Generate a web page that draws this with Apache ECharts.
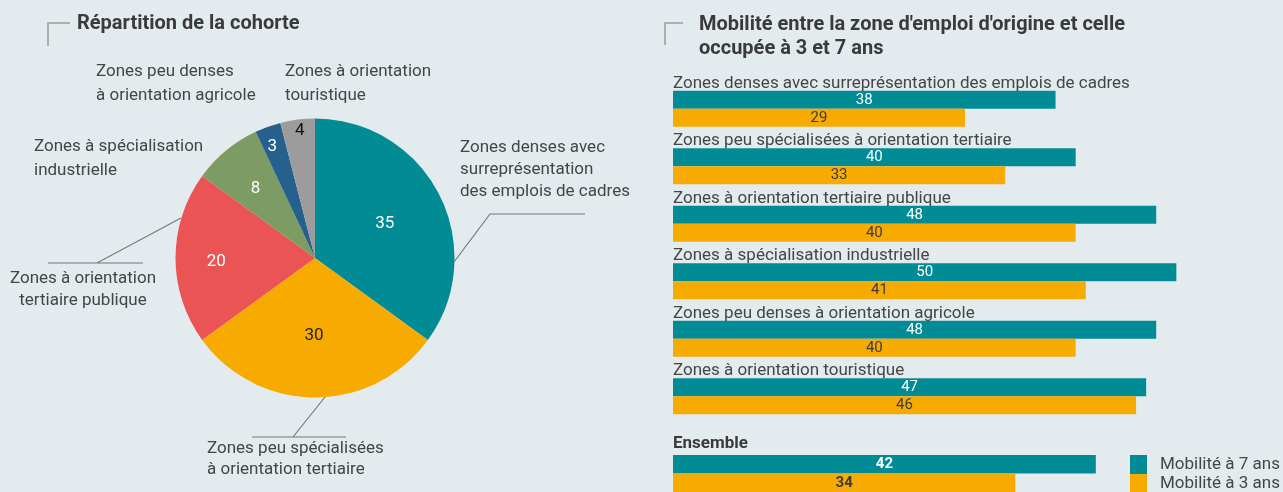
<!DOCTYPE html>
<html>
<head>
<meta charset="utf-8">
<script src="https://cdn.jsdelivr.net/npm/echarts@6/dist/echarts.min.js"></script>
<style>
html,body{margin:0;padding:0;background:#e4ebef;}
#main{width:1283px;height:492px;}
</style>
</head>
<body>
<div id="main"></div>
<script>
// ---- Data ----
const pieCategories = [
  'Zones denses avec\nsurreprésentation\ndes emplois de cadres',
  'Zones peu spécialisées\nà orientation tertiaire',
  'Zones à orientation\ntertiaire publique',
  'Zones à spécialisation\nindustrielle',
  'Zones peu denses\nà orientation agricole',
  'Zones à orientation\ntouristique'
];
const pieValues = [35, 30, 20, 8, 3, 4];

const barCategories = [
  'Zones denses avec surreprésentation des emplois de cadres',
  'Zones peu spécialisées à orientation tertiaire',
  'Zones à orientation tertiaire publique',
  'Zones à spécialisation industrielle',
  'Zones peu denses à orientation agricole',
  'Zones à orientation touristique'
];
const mobility7 = [38, 40, 48, 50, 48, 47];
const mobility3 = [29, 33, 40, 41, 40, 46];

const totalCategories = ['Ensemble'];
const total7 = [42];
const total3 = [34];

const seriesNames = ['Mobilité à 7 ans', 'Mobilité à 3 ans'];

// ---- Styles ----
const FONT = 'Roboto';
const TEXT = '#454545';
const pieColors = ['#008b95', '#f7ab00', '#ea5455', '#7c9c63', '#26608c', '#9c9c9c'];
const pieInnerLabelColors = ['#fff', '#222', '#fff', '#fff', '#fff', '#111'];
const innerOffsets = [[5, -1], [-1, 5], [-26, 4], [-13, -13], [-18, -43], [-6, -55]];
const outerLayouts = [
  {x: 460, y: 137, align: 'left', lh: 22, pts: [[454, 262], [490, 214], [585, 214]]},
  {x: 207, y: 438, align: 'left', lh: 21, pts: [[325, 397], [293, 437], [252, 437], [346, 437]]},
  {x: 83, y: 268, align: 'center', lh: 22, pts: [[181, 218], [97, 263], [48, 263], [143, 263]]},
  {x: 34, y: 135, align: 'left', lh: 24, pts: null},
  {x: 96, y: 60, align: 'left', lh: 24, pts: null},
  {x: 285, y: 60, align: 'left', lh: 24, pts: null}
];
const C7 = '#008b95', C3 = '#f7ab00';

const chart = echarts.init(document.getElementById('main'), null, {renderer: 'canvas'});

const option = {
  backgroundColor: '#e4ebef',
  animation: false,
  textStyle: {fontFamily: FONT},
  title: [
    {text: 'Répartition de la cohorte', left: 77, top: 14, padding: 0,
     textStyle: {fontFamily: FONT, fontSize: 20, fontWeight: 'bold', color: '#3a3a3a'}},
    {text: "Mobilité entre la zone d'emploi d'origine et celle\noccupée à 3 et 7 ans", left: 699, top: 13, padding: 0,
     textStyle: {fontFamily: FONT, fontSize: 20, fontWeight: 'bold', color: '#3a3a3a', lineHeight: 24}}
  ],
  graphic: [
    {type: 'polyline', shape: {points: [[70, 23], [48, 23], [48, 46]]}, style: {stroke: '#9a9a9a', lineWidth: 1.5, fill: null}},
    {type: 'polyline', shape: {points: [[683, 23], [665, 23], [665, 45]]}, style: {stroke: '#9a9a9a', lineWidth: 1.5, fill: null}}
  ],
  legend: {
    orient: 'vertical', left: 1130, top: 455, height: 80, padding: 0,
    itemWidth: 17, itemHeight: 19, itemGap: 0, icon: 'rect',
    data: seriesNames,
    textStyle: {fontFamily: FONT, fontSize: 17, color: TEXT, padding: [6, 0, 0, 8]}
  },
  grid: [
    {left: 673, top: 80, width: 600, height: 345},
    {left: 673, top: 455, width: 600, height: 40}
  ],
  xAxis: [
    {gridIndex: 0, type: 'value', min: 0, max: 59.6, show: false},
    {gridIndex: 1, type: 'value', min: 0, max: 59.6, show: false}
  ],
  yAxis: [
    {gridIndex: 0, type: 'category', inverse: true, data: barCategories, z: 5,
     axisLine: {show: false}, axisTick: {show: false},
     axisLabel: {inside: true, margin: 0, interval: 0, fontFamily: FONT, fontSize: 17, color: TEXT,
                 verticalAlign: 'bottom', lineHeight: 51}},
    {gridIndex: 1, type: 'category', inverse: true, data: totalCategories, z: 5,
     axisLine: {show: false}, axisTick: {show: false},
     axisLabel: {inside: true, margin: 0, interval: 0, fontFamily: FONT, fontSize: 17, fontWeight: 'bold', color: '#3a3a3a',
                 verticalAlign: 'bottom', lineHeight: 60}}
  ],
  series: [
    {
      type: 'pie', name: 'cohorte', center: [315, 258], radius: 139.5,
      startAngle: 90, clockwise: true, silent: true,
      data: pieValues.map((v, i) => ({value: v, name: pieCategories[i],
        itemStyle: {color: pieColors[i]},
        label: {color: pieInnerLabelColors[i]}})),
      label: {position: 'inside', formatter: '{c}', fontFamily: FONT, fontSize: 17},
      labelLine: {show: false},
      labelLayout: function (p) {
        const o = innerOffsets[p.dataIndex];
        return {dx: o[0], dy: o[1]};
      }
    },
    {
      type: 'pie', name: 'cohorte-labels', center: [315, 258], radius: 139.5,
      startAngle: 90, clockwise: true, silent: true, z: 1,
      data: pieValues.map((v, i) => ({value: v, name: pieCategories[i],
        itemStyle: {color: 'rgba(0,0,0,0)'},
        label: {lineHeight: outerLayouts[i].lh},
        labelLine: {show: !!outerLayouts[i].pts}})),
      label: {position: 'outside', formatter: '{b}', overflow: 'none', width: 400,
              fontFamily: FONT, fontSize: 17, color: TEXT, lineHeight: 22},
      labelLine: {show: true, lineStyle: {color: '#777', width: 1.2}},
      labelLayout: function (p) {
        const o = outerLayouts[p.dataIndex];
        const r = {x: o.x, y: o.y, align: o.align, verticalAlign: 'top'};
        if (o.pts) r.labelLinePoints = o.pts;
        return r;
      }
    },
    {
      type: 'bar', name: seriesNames[0], xAxisIndex: 0, yAxisIndex: 0, data: mobility7,
      barWidth: 18, barGap: '0%', itemStyle: {color: C7},
      label: {show: true, position: 'inside', fontFamily: FONT, fontSize: 15, color: '#fff'}
    },
    {
      type: 'bar', name: seriesNames[1], xAxisIndex: 0, yAxisIndex: 0, data: mobility3,
      barWidth: 18, barGap: '0%', itemStyle: {color: C3},
      label: {show: true, position: 'inside', fontFamily: FONT, fontSize: 15, color: '#3d3d3d'}
    },
    {
      type: 'bar', name: seriesNames[0], xAxisIndex: 1, yAxisIndex: 1, data: total7,
      barWidth: 20, barGap: '0%', itemStyle: {color: C7},
      label: {show: true, position: 'inside', fontFamily: FONT, fontSize: 15, fontWeight: 'bold', color: '#fff'}
    },
    {
      type: 'bar', name: seriesNames[1], xAxisIndex: 1, yAxisIndex: 1, data: total3,
      barWidth: 20, barGap: '0%', itemStyle: {color: C3},
      label: {show: true, position: 'inside', fontFamily: FONT, fontSize: 15, fontWeight: 'bold', color: '#3d3d3d'}
    }
  ]
};
chart.setOption(option);
</script>
</body>
</html>
